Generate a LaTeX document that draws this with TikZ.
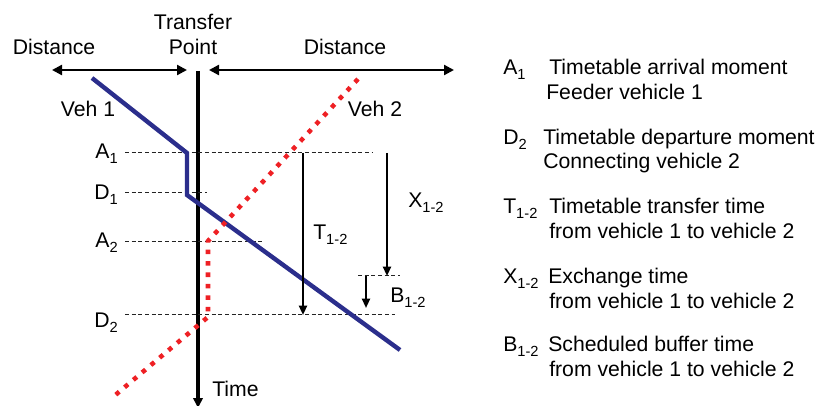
\documentclass[tikz,border=0pt]{standalone}
\usepackage{fontspec}
\setmainfont{Liberation Sans}
\usetikzlibrary{arrows.meta}
\definecolor{vehonec}{RGB}{43,46,140}
\definecolor{vehtwoc}{RGB}{238,32,36}
\definecolor{guidec}{RGB}{35,35,35}
\newcommand{\sbs}[1]{\raisebox{-3.3pt}{\fontsize{11}{12}\selectfont #1}}

\begin{document}
\begin{tikzpicture}[x=0.75pt,y=-0.75pt,font=\fontsize{15.9}{18}\selectfont,>=Triangle,
  lbl/.style={anchor=base,inner sep=0pt},
  lblw/.style={anchor=base west,inner sep=0pt},
  lble/.style={anchor=base east,inner sep=0pt},
  guide/.style={guidec,line width=0.75pt,dash pattern=on 3pt off 2pt},
  distarrow/.style={<->,line width=1.7pt,>={Triangle[length=7.5pt,width=7.5pt]}},
  axisline/.style={->,line width=2.3pt,>={Triangle[length=7.5pt,width=7pt]}},
  span/.style={->,line width=1.5pt,>={Triangle[length=7pt,width=6pt]}},
  veh1/.style={vehonec,line width=3.3pt,line join=miter},
  veh2/.style={vehtwoc,line width=3.4pt,dash pattern=on 3.4pt off 5.2pt}]

\useasboundingbox (0,0) rectangle (822,406);

%================= axes =================
\node[lbl] (ttransfer) at (193,30) {Transfer};
\node[lbl] (tpoint) at (193,55) {Point};
\node[lbl] (tdistl) at (54,55) {Distance};
\node[lbl] (tdistr) at (345,55) {Distance};

\coordinate (dl1) at (52,70);  \coordinate (dl2) at (187,70);
\coordinate (dr1) at (209,70); \coordinate (dr2) at (454,70);
\draw[distarrow] (dl1) -- (dl2);
\draw[distarrow] (dr1) -- (dr2);

\coordinate (axtop) at (198,71);
\coordinate (axbot) at (198,408);
\draw[axisline] (axtop) -- (axbot);
\node[lblw] (ttime) at (212,397) {Time};

%================= timetable moments =================
\node[lble] (lA1) at (118,159) {A\sbs{1}};
\node[lble] (lD1) at (118,200) {D\sbs{1}};
\node[lble] (lA2) at (118,248) {A\sbs{2}};
\node[lble] (lD2) at (118,328) {D\sbs{2}};

% guide lines, left end clear of the labels
\foreach \y/\xe in {153/372,193/207,242/263,315/395}{
  \draw[guide] (125,\y) -- (\xe,\y);}
\draw[guide] (358,276) -- (400,276);

%================= vehicles =================
\coordinate (v1s) at (92,78);
\coordinate (v1a) at (187,153);
\coordinate (v1d) at (187,195);
\coordinate (v1e) at (400,350);
\draw[veh1] (v1s) -- (v1a) -- (v1d) -- (v1e);

\coordinate (v2s) at (358,79);
\coordinate (v2a) at (208,241);
\coordinate (v2d) at (208,317);
\coordinate (v2e) at (113,397);
\draw[veh2] (v2s) -- (v2a) -- (v2d) -- (v2e);

\node[lbl] (lveh1) at (88,117) {Veh 1};
\node[lbl] (lveh2) at (375,117) {Veh 2};

%================= spans =================
\coordinate (tA1) at (303,153); \coordinate (tD2) at (303,315);
\coordinate (xA1) at (387,153); \coordinate (xB) at (387,276);
\coordinate (bB) at (366,276);  \coordinate (bD2) at (366,308);
\draw[span] (tA1) -- (tD2);
\draw[span] (xA1) -- (xB);
\draw[span] (bB) -- (bD2);
\node[lblw] (lT) at (313,240) {T\sbs{1-2}};
\node[lblw] (lX) at (408,208) {X\sbs{1-2}};
\node[lblw] (lB) at (390,303) {B\sbs{1-2}};

%================= legend =================
\node[lblw] (kA1) at (503,75) {A\sbs{1}};
\node[lblw] (kA1a) at (549,75) {Timetable arrival moment};
\node[lblw] (kA1b) at (546,100) {Feeder vehicle 1};

\node[lblw] (kD2) at (503,145) {D\sbs{2}};
\node[lblw] (kD2a) at (543,145) {Timetable departure moment};
\node[lblw] (kD2b) at (543,169) {Connecting vehicle 2};

\node[lblw] (kT) at (503,214) {T\sbs{1-2}};
\node[lblw] (kTa) at (549,214) {Timetable transfer time};
\node[lblw] (kTb) at (549,239) {from vehicle 1 to vehicle 2};

\node[lblw] (kX) at (503,284) {X\sbs{1-2}};
\node[lblw] (kXa) at (548,284) {Exchange time};
\node[lblw] (kXb) at (549,309) {from vehicle 1 to vehicle 2};

\node[lblw] (kB) at (503,352) {B\sbs{1-2}};
\node[lblw] (kBa) at (548,352) {Scheduled buffer time};
\node[lblw] (kBb) at (549,377) {from vehicle 1 to vehicle 2};
\end{tikzpicture}
\end{document}
